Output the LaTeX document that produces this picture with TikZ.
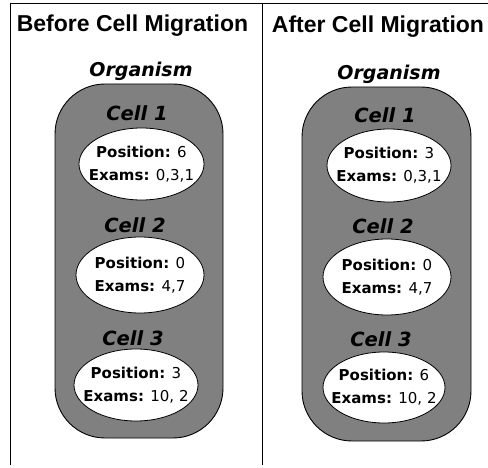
\documentclass[tikz,border=0pt]{standalone}
\usepackage{fontspec}
\setmainfont{Liberation Sans}
\newfontfamily\comic{DejaVu Sans}
\usetikzlibrary{shapes.geometric}
\definecolor{orggray}{HTML}{808080}
\tikzset{
 header/.style={font=\fontsize{23}{26}\selectfont\bfseries, inner sep=0pt, anchor=base},
 orgtitle/.style={font=\comic\fontsize{19}{22}\selectfont\bfseries\itshape, inner sep=0pt, anchor=base},
 celltitle/.style={font=\comic\fontsize{19.5}{22}\selectfont\bfseries\itshape, inner sep=0pt, anchor=base},
 organism/.style={draw=black, line width=0.9pt, fill=orggray, rounded corners=50pt, minimum width=168pt, minimum height=354pt, inner sep=0pt},
 cellbody/.style={ellipse, draw=black, line width=0.8pt, fill=white, inner sep=0pt},
 celltext/.style={font=\comic\fontsize{15}{23}\selectfont, align=center, inner sep=0pt},
 framerule/.style={line width=0.9pt}
}
\begin{document}
\begin{tikzpicture}[x=1pt,y=-1pt]
\useasboundingbox (0,0) rectangle (488,468);
% frame
\coordinate (tl) at (10.7,3.3);
\coordinate (tr) at (488,3.3);
\coordinate (bl) at (10.7,465);
\coordinate (mt) at (262.3,3.3);
\coordinate (mb) at (262.3,465);
\draw[framerule] (tr) -- (tl) -- (bl);
\draw[framerule] (mt) -- (mb);
% headers
\node[header] (hL) at (132.5,31.7) {Before Cell Migration};
\node[header] (hR) at (378,32.3) {After Cell Migration};
% organisms
\node[orgtitle] (oL) at (141,77) {Organism};
\node[orgtitle] (oR) at (389,79.5) {Organism};
\node[organism] (orgL) at (139,261) {};
\node[organism, minimum width=169pt] (orgR) at (386.5,264) {};
% left cells
\node[celltitle] (cL1) at (137,120.7) {Cell 1};
\node[cellbody, minimum width=125pt, minimum height=72pt] (eL1) at (141.5,164) {};
\node[celltext] (tL1) at (eL1) {\textbf{Position:} 6\\\textbf{Exams:} 0,3,1};
\node[celltitle] (cL2) at (135,233) {Cell 2};
\node[cellbody, minimum width=128pt, minimum height=76pt] (eL2) at (140,275) {};
\node[celltext] (tL2) at (eL2) {\textbf{Position:} 0\\\textbf{Exams:} 4,7};
\node[celltitle] (cL3) at (133,345) {Cell 3};
\node[cellbody, minimum width=124pt, minimum height=72pt] (eL3) at (136,385) {};
\node[celltext] (tL3) at (eL3) {\textbf{Position:} 3\\\textbf{Exams:} 10, 2};
% right cells
\node[celltitle] (cR1) at (385,122.7) {Cell 1};
\node[cellbody, minimum width=124pt, minimum height=73pt] (eR1) at (389,165.5) {};
\node[celltext] (tR1) at (eR1) {\textbf{Position:} 3\\\textbf{Exams:} 0,3,1};
\node[celltitle] (cR2) at (383,234) {Cell 2};
\node[cellbody, minimum width=128pt, minimum height=76pt] (eR2) at (387,277) {};
\node[celltext] (tR2) at (eR2) {\textbf{Position:} 0\\\textbf{Exams:} 4,7};
\node[celltitle] (cR3) at (381,346.7) {Cell 3};
\node[cellbody, minimum width=122pt, minimum height=71pt] (eR3) at (384,387.5) {};
\node[celltext] (tR3) at (eR3) {\textbf{Position:} 6\\\textbf{Exams:} 10, 2};
\end{tikzpicture}
\end{document}
